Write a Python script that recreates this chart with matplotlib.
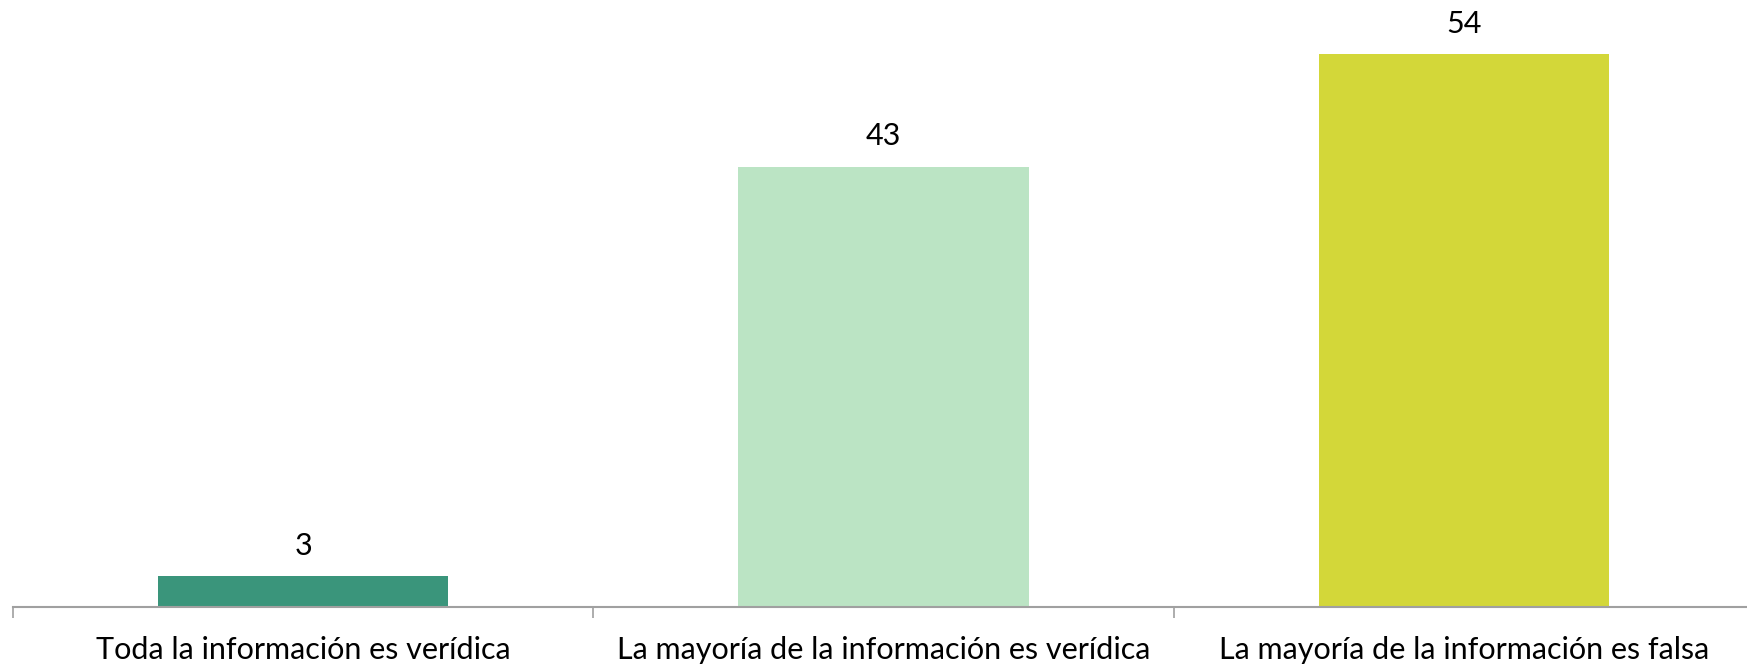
import matplotlib
matplotlib.use('Agg')
from matplotlib import pyplot as plt
import numpy as np

categories = ['Toda la información es verídica',
              'La mayoría de la información es verídica',
              'La mayoría de la información es falsa']
values = [3, 43, 54]
colors = ['#3A957B', '#BBE4C4', '#D3D739']

plt.rcParams['font.family'] = ['Lato', 'DejaVu Sans']

fig = plt.figure(figsize=(17.47, 6.70), dpi=100)
W, H = 1747, 670
ax = fig.add_axes([13 / W, (H - 607) / H, 1741 / W, 607 / H])

x = np.arange(len(categories))
bars = ax.bar(x, values, width=0.5, color=colors)

for b, v in zip(bars, values):
    ax.annotate(str(v), (b.get_x() + b.get_width() / 2, v), xytext=(0, 12),
                textcoords='offset points', ha='center', va='bottom', fontsize=22, color='black')

ax.set_xlim(-0.5, 2.5)
ax.set_ylim(0, 59.3)
ax.set_yticks([])
ax.set_xticks(x)
ax.set_xticklabels(categories, fontsize=22)
ax.set_xticks([-0.5, 0.5, 1.5], minor=True)
ax.tick_params(axis='x', which='major', length=0, pad=21)
ax.tick_params(axis='x', which='minor', length=8, width=1.2, color='#A0A0A0')

for s in ['top', 'right', 'left']:
    ax.spines[s].set_visible(False)
ax.spines['bottom'].set_color('#A0A0A0')
ax.spines['bottom'].set_linewidth(1.5)

fig.savefig('out.png', dpi=100)
